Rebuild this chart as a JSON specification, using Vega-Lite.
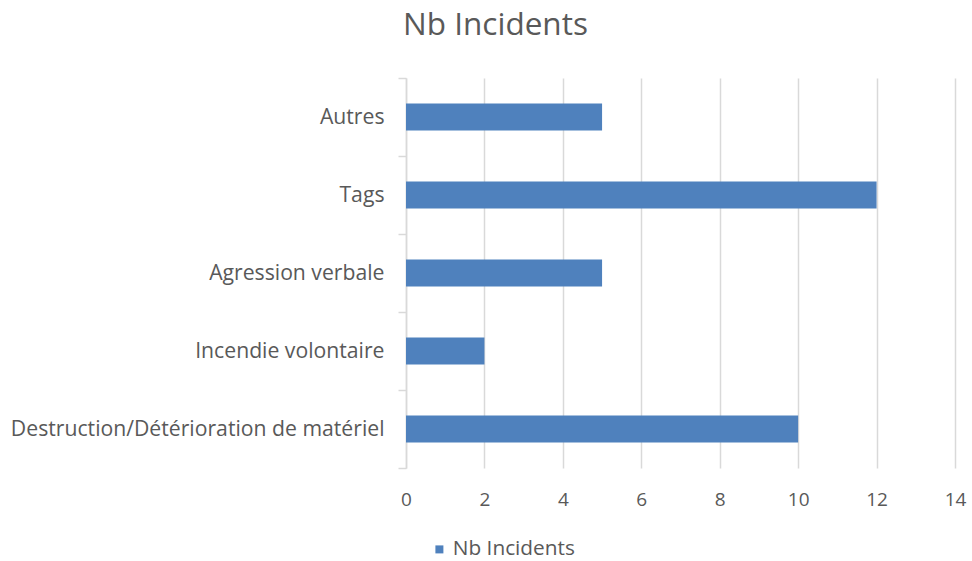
{
  "$schema": "https://vega.github.io/schema/vega-lite/v6.json",
  "autosize": "none",
  "width": 549,
  "height": 390,
  "padding": {"left": 406, "top": 78, "right": 17, "bottom": 93},
  "background": "#ffffff",
  "config": {"view": {"stroke": null}, "font": "Open Sans"},
  "title": {
    "text": "Nb Incidents",
    "fontSize": 31.5,
    "font": "Open Sans",
    "fontWeight": "normal",
    "color": "#595959",
    "anchor": "middle",
    "frame": "group",
    "dx": -185,
    "offset": 26
  },
  "data": {
    "values": [
      {"cat": "Autres", "n": 5},
      {"cat": "Tags", "n": 12},
      {"cat": "Agression verbale", "n": 5},
      {"cat": "Incendie volontaire", "n": 2},
      {"cat": "Destruction/Détérioration de matériel", "n": 10}
    ]
  },
  "mark": {"type": "bar", "size": 27, "color": "#4F81BD"},
  "encoding": {
    "y": {
      "field": "cat",
      "type": "nominal",
      "sort": null,
      "scale": {"paddingInner": 0, "paddingOuter": 0},
      "axis": {
        "title": null,
        "tickBand": "extent",
        "tickSize": 8,
        "tickColor": "#d9d9d9",
        "tickWidth": 1.5,
        "domainColor": "#d9d9d9",
        "domainWidth": 1.5,
        "labelPadding": 14,
        "labelFontSize": 21.2,
        "labelColor": "#595959",
        "labelFont": "Open Sans",
        "labelLimit": 500,
        "grid": false
      }
    },
    "x": {
      "field": "n",
      "type": "quantitative",
      "scale": {"domain": [0, 14], "nice": false},
      "axis": {
        "title": null,
        "values": [0, 2, 4, 6, 8, 10, 12, 14],
        "ticks": false,
        "domain": false,
        "grid": true,
        "gridColor": "#d9d9d9",
        "gridWidth": 1.5,
        "labelFlush": false,
        "labelPadding": 22,
        "labelFontSize": 19,
        "labelColor": "#595959",
        "labelFont": "Open Sans"
      }
    },
    "color": {
      "datum": "Nb Incidents",
      "scale": {"range": ["#4F81BD"]},
      "legend": {
        "title": null,
        "orient": "none",
        "legendX": 23,
        "legendY": 461,
        "symbolType": "square",
        "symbolSize": 64,
        "labelFontSize": 20.8,
        "labelColor": "#595959",
        "labelFont": "Open Sans",
        "labelOffset": 3
      }
    }
  }
}
